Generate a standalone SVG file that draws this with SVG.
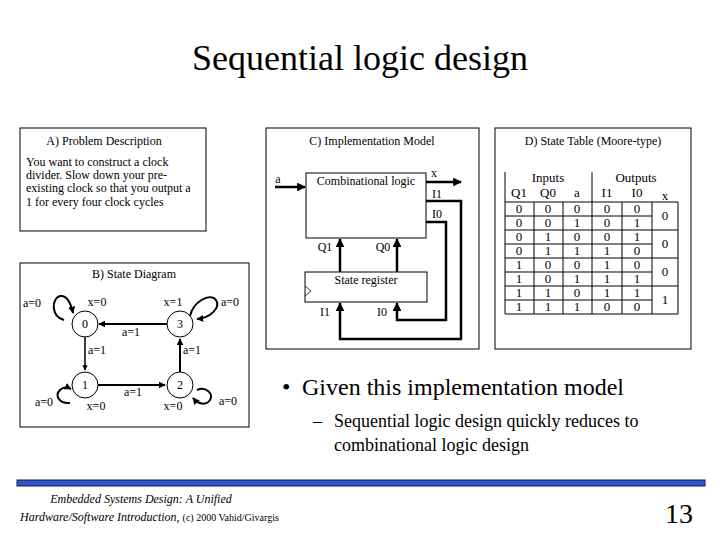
<svg xmlns="http://www.w3.org/2000/svg" width="720" height="540" viewBox="0 0 720 540">
<defs>
<style>
text{font-family:"Liberation Serif","Times New Roman",serif;fill:#000}
.s{font-size:12px}
.box{fill:#fff;stroke:#000;stroke-width:1}
.w{fill:none;stroke:#000;stroke-width:2.5}
.e{fill:none;stroke:#000;stroke-width:2}
.t{font-size:13px}
</style>
<marker id="ar" viewBox="0 0 10 10" refX="9" refY="5" markerWidth="3.5" markerHeight="3.5" orient="auto"><path d="M0,0L10,5L0,10z" fill="#000"/></marker>
</defs>
<rect width="720" height="540" fill="#fff"/>
<text x="360" y="70" font-size="36" text-anchor="middle">Sequential logic design</text>

<g id="panelA">
<rect class="box" x="20" y="128" width="186" height="103"/>
<text class="s" x="104" y="145" text-anchor="middle">A) Problem Description</text>
<text class="s" x="26" y="166">You want to construct a clock</text>
<text class="s" x="26" y="179">divider.  Slow down your pre-</text>
<text class="s" x="26" y="192">existing clock so that you output a</text>
<text class="s" x="26" y="206">1 for every four clock cycles</text>
</g>

<g id="panelB">
<rect class="box" x="20" y="263" width="229" height="164"/>
<text class="s" x="134" y="278" text-anchor="middle">B) State Diagram</text>
</g>
<g id="state0"><circle class="box" cx="85" cy="324" r="13"/><text class="s" x="85" y="328" text-anchor="middle">0</text></g>
<g id="state3"><circle class="box" cx="180" cy="324" r="13"/><text class="s" x="180" y="328" text-anchor="middle">3</text></g>
<g id="state1"><circle class="box" cx="85" cy="385" r="13"/><text class="s" x="85" y="389" text-anchor="middle">1</text></g>
<g id="state2"><circle class="box" cx="180" cy="385" r="13"/><text class="s" x="180" y="389" text-anchor="middle">2</text></g>
<g id="stateConnectors">
<path class="e" d="M167,324H99" marker-end="url(#ar)"/>
<path d="M85,337V370" stroke="#000" stroke-width="1.5" fill="none" marker-end="url(#ar)"/>
<path class="e" d="M98,385H165" marker-end="url(#ar)"/>
<path class="e" d="M180,372V339" marker-end="url(#ar)"/>
<path class="e" d="M64,320C50,316 52,298 60,296C67,295 71,304 73,313" marker-end="url(#ar)"/>
<path class="e" d="M190,316C193,302 210,292 216,300C221,308 210,318 197,319" marker-end="url(#ar)"/>
<path class="e" d="M70,403C60,404 54,396 60,390C63,387 67,387 71,389" marker-end="url(#ar)"/>
<path class="e" d="M197,390C206,386 214,394 210,400C206,406 198,404 193,398" marker-end="url(#ar)"/>
<text class="s" x="32" y="307" text-anchor="middle">a=0</text>
<text class="s" x="97" y="306" text-anchor="middle">x=0</text>
<text class="s" x="173" y="306" text-anchor="middle">x=1</text>
<text class="s" x="230" y="306" text-anchor="middle">a=0</text>
<text class="s" x="131" y="336" text-anchor="middle">a=1</text>
<text class="s" x="97" y="354" text-anchor="middle">a=1</text>
<text class="s" x="192" y="354" text-anchor="middle">a=1</text>
<text class="s" x="133" y="396" text-anchor="middle">a=1</text>
<text class="s" x="44" y="406" text-anchor="middle">a=0</text>
<text class="s" x="96" y="410" text-anchor="middle">x=0</text>
<text class="s" x="173" y="410" text-anchor="middle">x=0</text>
<text class="s" x="228" y="405" text-anchor="middle">a=0</text>
</g>

<g id="panelC">
<rect class="box" x="266" y="128" width="213" height="221"/>
<text class="s" x="372" y="145" text-anchor="middle">C) Implementation Model</text>
</g>
<g id="comb"><rect class="box" x="306" y="173" width="120" height="65"/><text class="s" x="366" y="185" text-anchor="middle">Combinational logic</text></g>
<g id="reg"><rect class="box" x="305" y="272" width="122" height="30"/><text class="s" x="366" y="284" text-anchor="middle">State register</text><path d="M305,286L311,291L305,296" fill="none" stroke="#000" stroke-width="0.8"/></g>
<g id="implConnectors">
<path class="w" d="M275,187H305" marker-end="url(#ar)"/>
<path class="w" d="M426,182H461" marker-end="url(#ar)"/>
<path class="w" d="M426,201H461V339H340V303" marker-end="url(#ar)"/>
<path class="w" d="M426,222H446V320H397V303" marker-end="url(#ar)"/>
<path class="w" d="M340,272V239" marker-end="url(#ar)"/>
<path class="w" d="M397,272V239" marker-end="url(#ar)"/>
<text class="s" x="278" y="183" text-anchor="middle">a</text>
<text class="s" x="434" y="177" text-anchor="middle">x</text>
<text class="s" x="437" y="198" text-anchor="middle">I1</text>
<text class="s" x="437" y="218" text-anchor="middle">I0</text>
<text class="s" x="325" y="251" text-anchor="middle">Q1</text>
<text class="s" x="383" y="251" text-anchor="middle">Q0</text>
<text class="s" x="325" y="316" text-anchor="middle">I1</text>
<text class="s" x="382" y="316" text-anchor="middle">I0</text>
</g>

<g id="panelD">
<rect class="box" x="495" y="128" width="196" height="221"/>
<text class="s" x="593" y="145" text-anchor="middle">D) State Table (Moore-type)</text>
<g stroke="#000" stroke-width="1" fill="none">
<path d="M505,172V314H678V202M505,202H678M592,172V202"/>
<path d="M505,216H652M505,244H652M505,272H652M505,300H652M505,230H678M505,258H678M505,286H678"/>
<path d="M534,202V314M563,202V314M592,202V314M622,202V314M652,202V314"/>
</g>
<g class="t" text-anchor="middle">
<text x="548" y="182">Inputs</text><text x="636" y="182">Outputs</text>
<text x="519" y="197">Q1</text><text x="548" y="197">Q0</text><text x="577" y="197">a</text><text x="607" y="197">I1</text><text x="637" y="197">I0</text><text x="665" y="200">x</text>
<text x="519" y="213">0</text><text x="548" y="213">0</text><text x="577" y="213">0</text><text x="607" y="213">0</text><text x="637" y="213">0</text>
<text x="519" y="227">0</text><text x="548" y="227">0</text><text x="577" y="227">1</text><text x="607" y="227">0</text><text x="637" y="227">1</text>
<text x="519" y="241">0</text><text x="548" y="241">1</text><text x="577" y="241">0</text><text x="607" y="241">0</text><text x="637" y="241">1</text>
<text x="519" y="255">0</text><text x="548" y="255">1</text><text x="577" y="255">1</text><text x="607" y="255">1</text><text x="637" y="255">0</text>
<text x="519" y="269">1</text><text x="548" y="269">0</text><text x="577" y="269">0</text><text x="607" y="269">1</text><text x="637" y="269">0</text>
<text x="519" y="283">1</text><text x="548" y="283">0</text><text x="577" y="283">1</text><text x="607" y="283">1</text><text x="637" y="283">1</text>
<text x="519" y="297">1</text><text x="548" y="297">1</text><text x="577" y="297">0</text><text x="607" y="297">1</text><text x="637" y="297">1</text>
<text x="519" y="311">1</text><text x="548" y="311">1</text><text x="577" y="311">1</text><text x="607" y="311">0</text><text x="637" y="311">0</text>
<text x="665" y="220">0</text><text x="665" y="248">0</text><text x="665" y="276">0</text><text x="665" y="304">1</text>
</g>
</g>

<g id="bullets">
<text x="282" y="395" font-size="24">•</text>
<text x="302" y="395" font-size="24">Given this implementation model</text>
<text x="313" y="427" font-size="18">–</text>
<text x="334" y="427" font-size="18">Sequential logic design quickly reduces to</text>
<text x="334" y="451" font-size="18">combinational logic design</text>
</g>

<g id="footer">
<rect x="17" y="480" width="688" height="6" fill="#3355cc" stroke="#0a1a55" stroke-width="1"/>
<text x="141" y="503" font-size="12" font-style="italic" text-anchor="middle">Embedded Systems Design: A Unified</text>
<text x="20" y="521" font-size="12" font-style="italic">Hardware/Software Introduction, <tspan font-style="normal" font-size="10">(c) 2000 Vahid/Givargis</tspan></text>
<text x="693" y="523" font-size="28" text-anchor="end">13</text>
</g>
</svg>
